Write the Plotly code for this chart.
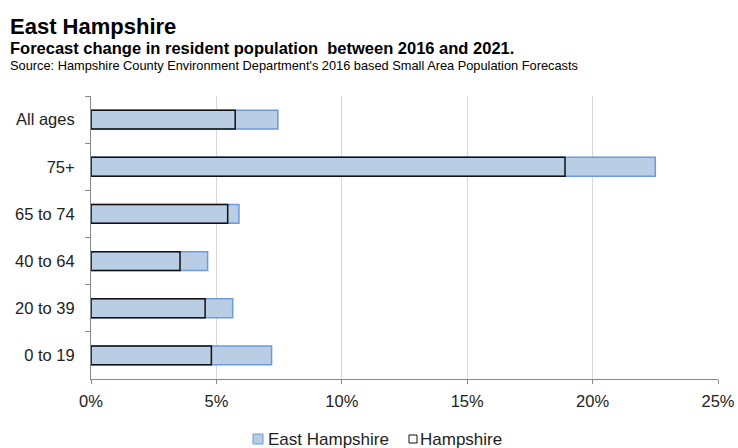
import plotly.graph_objects as go

# Age bands, listed top to bottom as shown on the chart
age_bands = ["All ages", "75+", "65 to 74", "40 to 64", "20 to 39", "0 to 19"]

# Forecast % change in resident population, 2016 to 2021
east_hampshire = [7.45, 22.5, 5.9, 4.65, 5.65, 7.2]
hampshire = [5.75, 18.9, 5.45, 3.55, 4.55, 4.8]

x_ticks = [0, 5, 10, 15, 20, 25]
x_tick_labels = ["0%", "5%", "10%", "15%", "20%", "25%"]

FONT = "Liberation Sans, Arial, sans-serif"
EH_FILL, EH_LINE = "#B9CDE5", "#6C9BDB"
HC_LINE = "#111111"

# plot-area geometry in pixels (used to place header and legend in paper units)
L, R, T, B = 91, 20, 96, 69
W, H = 738, 448
PW, PH = W - L - R, H - T - B


def px_x(x):
    return (x - L) / PW


def px_y(y):
    return (H - B - y) / PH


fig = go.Figure()
fig.add_trace(go.Bar(
    name="East Hampshire",
    y=age_bands, x=east_hampshire, orientation="h",
    marker=dict(color=EH_FILL, line=dict(color=EH_LINE, width=1.5)),
    width=0.4, showlegend=False,
))
fig.add_trace(go.Bar(
    name="Hampshire",
    y=age_bands, x=hampshire, orientation="h",
    marker=dict(color="rgba(0,0,0,0)", line=dict(color=HC_LINE, width=1.5)),
    width=0.4, showlegend=False,
))

# legend: small swatches followed by series names
legend_items = [
    ("East Hampshire", 253, 10, EH_FILL, EH_LINE, 267),
    ("Hampshire", 409, 8, "white", HC_LINE, 419),
]
shapes, annotations = [], []
ly = 439
for name, sx, size, fill, line, tx in legend_items:
    shapes.append(dict(type="rect", xref="paper", yref="paper",
                       x0=px_x(sx), x1=px_x(sx + size),
                       y0=px_y(ly + size / 2), y1=px_y(ly - size / 2),
                       fillcolor=fill, line=dict(color=line, width=1)))
    annotations.append(dict(text=name, xref="paper", yref="paper",
                            x=px_x(tx - 1), y=px_y(ly), xanchor="left", yanchor="middle",
                            showarrow=False, font=dict(family=FONT, size=17, color="#222222")))

annotations += [
    dict(text="<b>East Hampshire</b>", xref="paper", yref="paper",
         x=px_x(8), y=px_y(26), xanchor="left", yanchor="middle",
         showarrow=False, font=dict(family=FONT, size=22, color="#000000")),
    dict(text="<b>Forecast change in resident population  between 2016 and 2021.</b>",
         xref="paper", yref="paper",
         x=px_x(8), y=px_y(48), xanchor="left", yanchor="middle",
         showarrow=False, font=dict(family=FONT, size=16.5, color="#000000")),
    dict(text="Source: Hampshire County Environment Department's 2016 based Small Area Population Forecasts",
         xref="paper", yref="paper",
         x=px_x(8), y=px_y(66), xanchor="left", yanchor="middle",
         showarrow=False, font=dict(family=FONT, size=12.8, color="#000000")),
]

fig.update_layout(
    width=W, height=H,
    margin=dict(l=L, r=R, t=T, b=B, autoexpand=False),
    barmode="overlay",
    plot_bgcolor="white", paper_bgcolor="white",
    font=dict(family=FONT, size=16, color="#222222"),
    showlegend=False,
    xaxis=dict(
        range=[0, 25], tickvals=x_ticks, ticktext=x_tick_labels,
        showgrid=True, gridcolor="#D9D9D9", gridwidth=1,
        showline=True, linecolor="#888888", linewidth=1,
        ticks="outside", ticklen=4, tickcolor="#888888",
        zeroline=False, tickfont=dict(size=16.5, color="#222222"),
        ticklabelstandoff=3, automargin=False, fixedrange=True,
    ),
    yaxis=dict(
        autorange="reversed", type="category",
        showline=True, linecolor="#888888", linewidth=1,
        ticks="outside", tickson="boundaries", ticklen=5, tickcolor="#888888",
        showgrid=False, tickfont=dict(size=16.5, color="#222222"),
        ticklabelstandoff=12, automargin=False, fixedrange=True,
    ),
    shapes=shapes,
    annotations=annotations,
)

fig.write_html("out.html")
